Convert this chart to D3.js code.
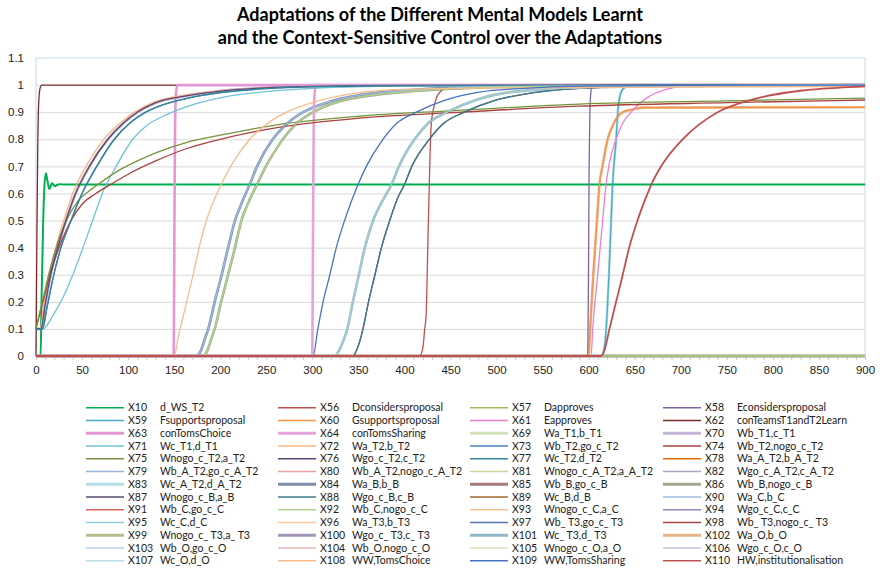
<!DOCTYPE html>
<html>
<head>
<meta charset="utf-8">
<script src="https://cdn.jsdelivr.net/npm/d3@7"></script>
<style>
  body { margin: 0; background: #fff; }
  svg { font-family: Lato, 'Open Sans', sans-serif; }
</style>
</head>
<body>
<svg id="chart" width="880" height="572"></svg>
<script>
// curves, [time, value]
const zeroLine = [[0, 0], [900, 0]];
const pulseWS = [[0, 0], [5, 0], [6, 0.2], [7.5, 0.45], [9, 0.62], [10.8, 0.675], [12.5, 0.645], [14.5, 0.616],
  [16, 0.628], [17.4, 0.638], [19, 0.632], [20.5, 0.627], [23, 0.632], [26, 0.634], [30, 0.633], [900, 0.633]];
const instantOn = [[0, 0], [1, 0.45], [2, 0.8], [3, 0.94], [4.5, 0.99], [6, 1], [900, 1]];
const fastLead = [[0, 0.1], [4.5, 0.1], [9, 0.2], [15, 0.31], [23, 0.42], [31, 0.51], [41, 0.61], [56, 0.71],
  [76, 0.81], [93, 0.865], [108, 0.902], [128, 0.937], [160, 0.962], [200, 0.979], [250, 0.99], [300, 0.995],
  [400, 0.999], [900, 1]];
const fastT = [[0, 0.1], [5.5, 0.1], [10, 0.19], [16, 0.3], [24, 0.405], [32.5, 0.5], [43, 0.6], [58, 0.7],
  [78, 0.8], [95, 0.86], [110, 0.9], [130, 0.935], [163, 0.96], [200, 0.978], [250, 0.99], [300, 0.995],
  [400, 0.999], [900, 1]];
const slowerT = [[0, 0.1], [7, 0.1], [12, 0.18], [18, 0.28], [27, 0.4], [38, 0.5], [50, 0.6], [66, 0.7],
  [85, 0.8], [102, 0.86], [119, 0.9], [140, 0.93], [163, 0.95], [200, 0.972], [250, 0.987], [300, 0.994],
  [400, 0.998], [900, 1]];
const sigmoidT1 = [[0, 0.1], [8, 0.1], [15, 0.13], [21, 0.165], [27, 0.2], [40, 0.3], [51, 0.4], [61.5, 0.5],
  [72, 0.6], [87, 0.7], [105, 0.8], [120, 0.85], [141, 0.89], [163, 0.92], [200, 0.953], [250, 0.976],
  [300, 0.988], [400, 0.996], [900, 1]];
const slowGreen = [[0, 0.1], [4, 0.16], [8, 0.215], [13.7, 0.3], [22, 0.4], [33, 0.5], [45, 0.57], [58, 0.61],
  [70, 0.64], [90, 0.685], [110, 0.72], [130, 0.75], [163, 0.788], [200, 0.815], [265, 0.855], [351, 0.885],
  [450, 0.905], [590, 0.93], [750, 0.942], [900, 0.952]];
const slowRed = [[0, 0.1], [4, 0.155], [8, 0.205], [15, 0.3], [25, 0.4], [38, 0.5], [50, 0.56], [65, 0.6],
  [81, 0.633], [105, 0.68], [130, 0.72], [163, 0.765], [200, 0.8], [265, 0.845], [351, 0.878], [450, 0.898],
  [590, 0.922], [750, 0.935], [900, 0.945]];
const choiceCtx = [[0, 0], [149.5, 0], [150.3, 0.5], [151, 0.85], [152, 0.97], [153.5, 1], [900, 1]];
const sharingCtx = [[0, 0], [300, 0], [300.8, 0.5], [301.5, 0.85], [302.5, 0.97], [304, 1], [900, 1]];
const tomsChoice = [[0, 0], [150, 0], [155, 0.08], [160, 0.15], [165, 0.22], [170.6, 0.3], [177, 0.4],
  [185, 0.5], [201, 0.633], [215, 0.72], [232, 0.8], [250, 0.855], [272, 0.9], [300, 0.935], [351, 0.972],
  [400, 0.984], [500, 0.99], [900, 0.994]];
const learnB1 = [[0, 0], [174, 0], [179, 0.02], [183, 0.06], [187, 0.1], [194, 0.2], [201.6, 0.3], [208.6, 0.4],
  [216, 0.5], [224, 0.57], [232, 0.633], [240, 0.7], [257, 0.8], [270, 0.85], [290, 0.9], [320, 0.94],
  [351, 0.963], [400, 0.98], [450, 0.99], [550, 0.996], [900, 1]];
const learnB2 = [[0, 0], [181, 0], [186, 0.02], [190, 0.06], [194, 0.1], [201, 0.2], [208.6, 0.3], [216, 0.4],
  [223, 0.5], [231, 0.57], [240, 0.633], [248, 0.69], [262, 0.77], [268, 0.8], [282, 0.855], [301, 0.9],
  [330, 0.94], [360, 0.96], [410, 0.978], [460, 0.988], [560, 0.995], [900, 1]];
const tomsSharing = [[0, 0], [300.8, 0], [306, 0.1], [311.7, 0.2], [319, 0.3], [326, 0.4], [335, 0.5],
  [349.6, 0.633], [358.6, 0.7], [376.7, 0.8], [392, 0.86], [413, 0.9], [445, 0.945], [481, 0.974],
  [530, 0.988], [590, 0.996], [700, 0.999], [900, 1]];
const learnC1 = [[0, 0], [324, 0], [329, 0.02], [333, 0.05], [338, 0.1], [344, 0.2], [350.5, 0.3], [357, 0.4],
  [366, 0.5], [377, 0.578], [386, 0.633], [394, 0.7], [411, 0.8], [426, 0.86], [446, 0.9], [480, 0.948],
  [517, 0.975], [590, 0.99], [700, 0.997], [900, 1]];
const learnC2 = [[0, 0], [344, 0], [349, 0.03], [352, 0.06], [355, 0.1], [361, 0.2], [368, 0.3], [375, 0.4],
  [384, 0.5], [392, 0.578], [400, 0.633], [408, 0.7], [427, 0.8], [443, 0.86], [465, 0.9], [500, 0.945],
  [540, 0.972], [590, 0.988], [700, 0.997], [900, 1]];
const dConsiders = [[0, 0], [416.5, 0], [420, 0.03], [422, 0.1], [423.5, 0.15], [426, 0.5], [429, 0.85],
  [432, 0.92], [435, 0.955], [440, 0.98], [448, 0.995], [465, 1], [900, 1]];
const eConsiders = [[0, 0], [599, 0], [599.8, 0.3], [600.5, 0.7], [601.3, 0.9], [602.3, 0.97], [604, 1], [900, 1]];
const gSupports = [[0, 0], [599.8, 0], [601.6, 0.1], [605, 0.3], [609, 0.5], [611.7, 0.633], [615, 0.7],
  [620.6, 0.8], [626, 0.85], [637, 0.9], [648, 0.91], [660, 0.917], [900, 0.918]];
const eApproves = [[0, 0], [602.6, 0], [604.4, 0.1], [609.8, 0.3], [615.2, 0.5], [618.9, 0.633], [621.8, 0.7],
  [629.8, 0.8], [637, 0.86], [646, 0.9], [662, 0.95], [691, 0.99], [706, 1], [900, 1]];
const fSupports = [[0, 0], [613.5, 0], [617, 0.03], [619, 0.1], [622, 0.3], [624.4, 0.5], [626, 0.633],
  [629.8, 0.8], [631.6, 0.9], [633.4, 0.95], [636, 0.98], [638.8, 0.99], [642.5, 1], [900, 1]];
const institution = [[0, 0], [613.5, 0], [617, 0.02], [622.6, 0.1], [629.8, 0.2], [637, 0.3], [644, 0.4],
  [653, 0.5], [664, 0.6], [668, 0.633], [678.6, 0.7], [702, 0.8], [720, 0.855], [740, 0.9], [781.6, 0.95],
  [832, 0.98], [870, 0.99], [900, 0.995]];

const seriesCodes = ['X10', 'X56', 'X57', 'X58', 'X59', 'X60', 'X61', 'X62', 'X63', 'X64',
  'X69', 'X70', 'X71', 'X72', 'X73', 'X74', 'X75', 'X76', 'X77', 'X78', 'X79', 'X80', 'X81', 'X82', 'X83',
  'X84', 'X85', 'X86', 'X87', 'X88', 'X89', 'X90', 'X91', 'X92', 'X93', 'X94', 'X95',
  'X96', 'X97', 'X98', 'X99', 'X100', 'X101', 'X102', 'X103', 'X104', 'X105', 'X106', 'X107',
  'X108', 'X109', 'X110'];
const seriesNames = ['d_WS_T2', 'Dconsidersproposal', 'Dapproves', 'Econsidersproposal',
  'Fsupportsproposal', 'Gsupportsproposal', 'Eapproves', 'conTeamsT1andT2Learn',
  'conTomsChoice', 'conTomsSharing', 'Wa_T1,b_T1', 'Wb_T1,c_T1',
  'Wc_T1,d_T1', 'Wa_T2,b_T2', 'Wb_T2,go_c_T2', 'Wb_T2,nogo_c_T2',
  'Wnogo_c_T2,a_T2', 'Wgo_c_T2,c_T2', 'Wc_T2,d_T2', 'Wa_A_T2,b_A_T2',
  'Wb_A_T2,go_c_A_T2', 'Wb_A_T2,nogo_c_A_T2', 'Wnogo_c_A_T2,a_A_T2', 'Wgo_c_A_T2,c_A_T2',
  'Wc_A_T2,d_A_T2', 'Wa_B,b_B', 'Wb_B,go_c_B', 'Wb_B,nogo_c_B',
  'Wnogo_c_B,a_B', 'Wgo_c_B,c_B', 'Wc_B,d_B', 'Wa_C,b_C',
  'Wb_C,go_c_C', 'Wb_C,nogo_c_C', 'Wnogo_c_C,a_C', 'Wgo_c_C,c_C',
  'Wc_C,d_C', 'Wa_T3,b_T3', 'Wb_ T3,go_c_ T3', 'Wb_ T3,nogo_c_ T3',
  'Wnogo_c_ T3,a_ T3', 'Wgo_c_ T3,c_ T3', 'Wc_ T3,d_ T3', 'Wa_O,b_O',
  'Wb_O,go_c_O', 'Wb_O,nogo_c_O', 'Wnogo_c_O,a_O', 'Wgo_c_O,c_O',
  'Wc_O,d_O', 'WW,TomsChoice', 'WW,TomsSharing', 'HW,institutionalisation'];
const seriesCurves = [pulseWS, dConsiders, zeroLine, eConsiders, fSupports, gSupports, eApproves, instantOn,
  choiceCtx, sharingCtx,
  fastT, fastT, sigmoidT1, fastLead, slowerT, slowRed, slowGreen, fastT, slowerT, zeroLine,
  zeroLine, zeroLine, zeroLine, zeroLine, fSupports,
  learnB1, zeroLine, learnB2, learnC2, learnC2, zeroLine, learnB1, zeroLine, learnB2, learnC1, zeroLine, learnC1,
  zeroLine, zeroLine, zeroLine, zeroLine, zeroLine, learnC1, gSupports, zeroLine, zeroLine, zeroLine, zeroLine,
  zeroLine, tomsChoice, tomsSharing, institution];

const yTicks = [0, 0.1, 0.2, 0.3, 0.4, 0.5, 0.6, 0.7, 0.8, 0.9, 1, 1.1];
const xTicks = [0, 50, 100, 150, 200, 250, 300, 350, 400, 450, 500, 550, 600, 650, 700, 750, 800, 850, 900];

// styles
const seriesColors = ['#00b050', '#c0504d', '#9bbb59', '#8064a2', '#4bacc6', '#f79646', '#ec7fd0', '#7b2c2a',
  '#e497d4', '#e6a3da', '#d3e2b6', '#c4b6d8', '#70c3d9', '#fbb47c', '#4a7ebb', '#a8423f', '#77933c', '#5c4677',
  '#31859c', '#e46c0a', '#95b3d7', '#e6a3a1', '#c3d69b', '#b3a2c7', '#b7dee8', '#7d8ea6', '#a47d7c', '#a1a98c',
  '#5b4a71', '#3e7d8c', '#a5682f', '#9dbadf', '#d8655f', '#aed38f', '#fac090', '#9b84c4', '#92cddc', '#fbc9a1',
  '#5677ac', '#a54744', '#b4bf8b', '#a295b6', '#8fb9c7', '#e8b489', '#b9cde5', '#e6b9b8', '#d7e4bd', '#ccc1da',
  '#b7dee8', '#f9bc8c', '#4472c4', '#c0504d'];
const thickSeries = ['X63', 'X64', 'X69', 'X70', 'X83', 'X84', 'X85', 'X86', 'X99', 'X100', 'X101', 'X102'];

const margin = { top: 58, right: 15, bottom: 216, left: 36 };
const width = 880 - margin.left - margin.right;
const height = 572 - margin.top - margin.bottom;

const svg = d3.select('#chart');

svg.append('text')
  .attr('x', 440)
  .attr('y', 21)
  .attr('text-anchor', 'middle')
  .attr('font-size', '18px')
  .attr('font-weight', 'bold')
  .text('Adaptations of the Different Mental Models Learnt');
svg.append('text')
  .attr('x', 440)
  .attr('y', 44)
  .attr('text-anchor', 'middle')
  .attr('font-size', '18px')
  .attr('font-weight', 'bold')
  .text('and the Context-Sensitive Control over the Adaptations');

const g = svg.append('g').attr('transform', `translate(${margin.left},${margin.top})`);

const x = d3.scaleLinear().domain([0, 900]).range([0, width]);
const y = d3.scaleLinear().domain([0, 1.1]).range([height, 0]);

// grid
g.append('g')
  .call(d3.axisLeft(y).tickValues(yTicks.slice(1, -1)).tickSize(-width).tickFormat(''))
  .call(a => a.select('.domain').remove())
  .call(a => a.selectAll('line').attr('stroke', '#d9d9d9'));

g.append('rect')
  .attr('width', width)
  .attr('height', height)
  .attr('fill', 'none')
  .attr('stroke', '#c8d7ec');

// axes
g.append('g')
  .call(d3.axisLeft(y).tickValues(yTicks).tickSize(0).tickPadding(12).tickFormat(d => d))
  .call(a => a.select('.domain').remove())
  .call(a => a.selectAll('text').attr('font-size', '11.5px').attr('fill', '#222'));

g.append('g')
  .attr('transform', `translate(0,${height})`)
  .call(d3.axisBottom(x).tickValues(d3.range(0, 901, 10)).tickSize(4).tickPadding(6)
    .tickFormat(d => (xTicks.includes(d) ? d : '')))
  .call(a => a.select('.domain').attr('stroke', '#bfbfbf'))
  .call(a => a.selectAll('line').attr('stroke', '#c8c8c8'))
  .call(a => a.selectAll('text').attr('font-size', '11.5px').attr('fill', '#222'));

const line = d3.line()
  .x(d => x(d[0]))
  .y(d => y(d[1]))
  .curve(d3.curveMonotoneX);

const strokeOf = (code) => {
  if (code === 'X10') return 2;
  if (code === 'X110') return 1.8;
  return thickSeries.includes(code) ? 2.6 : 1.3;
};

// flat series underneath (Dapproves last), then thick weights, then the rest
const idx = d3.range(seriesCodes.length);
const flat = idx.filter(i => seriesCurves[i] === zeroLine && i !== 2).concat([2]);
const thickFirst = idx.filter(i => seriesCurves[i] !== zeroLine && ['X69', 'X70', 'X83', 'X84', 'X86', 'X101', 'X102'].includes(seriesCodes[i]));
const rest = idx.filter(i => !flat.includes(i) && !thickFirst.includes(i));
const drawOrder = flat.concat(thickFirst, rest);

g.append('g')
  .attr('fill', 'none')
  .attr('stroke-linejoin', 'round')
  .selectAll('path')
  .data(drawOrder)
  .enter()
  .append('path')
  .attr('stroke', i => seriesColors[i])
  .attr('stroke-width', i => strokeOf(seriesCodes[i]))
  .attr('d', i => line(seriesCurves[i]));

// legend
const legendCols = [86, 278, 470, 663];
const legend = svg.append('g')
  .selectAll('g')
  .data(idx)
  .enter()
  .append('g')
  .attr('transform', i => `translate(${legendCols[i % 4]},${407.7 + Math.floor(i / 4) * 12.75})`);

legend.append('line')
  .attr('x1', 0)
  .attr('x2', 38)
  .attr('stroke', i => seriesColors[i])
  .attr('stroke-width', i => (thickSeries.includes(seriesCodes[i]) ? 3 : 1.6));

legend.append('text')
  .attr('x', 42)
  .attr('dy', '0.35em')
  .attr('font-size', '10.5px')
  .attr('fill', '#222')
  .text(i => seriesCodes[i]);

legend.append('text')
  .attr('x', 74)
  .attr('dy', '0.35em')
  .attr('font-size', '10.5px')
  .attr('fill', '#222')
  .attr('xml:space', 'preserve')
  .text(i => seriesNames[i]);
</script>
</body>
</html>
